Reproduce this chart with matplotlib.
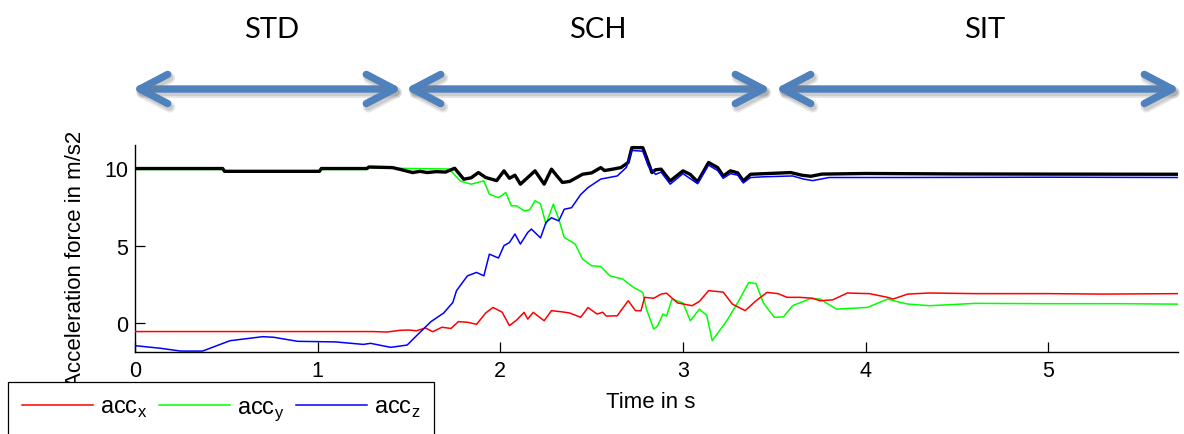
import matplotlib
matplotlib.use("Agg")
import matplotlib.pyplot as plt
from matplotlib.patches import FancyArrowPatch, ArrowStyle
from matplotlib.lines import Line2D
import matplotlib.patheffects as pe
import numpy as np

plt.rcParams['font.family'] = ['Liberation Sans', 'DejaVu Sans']
plt.rcParams['mathtext.fontset'] = 'custom'
plt.rcParams['mathtext.rm'] = 'Liberation Sans'

# ---------------- data ----------------
t_x = [0.00, 1.30, 1.38, 1.45, 1.50, 1.54, 1.59, 1.63, 1.68, 1.73, 1.77, 1.82, 1.87,
       1.92, 1.96, 2.01, 2.05, 2.09, 2.13, 2.15, 2.18, 2.24, 2.28, 2.34, 2.38, 2.44,
       2.48, 2.53, 2.56, 2.58, 2.64, 2.68, 2.70, 2.74, 2.77, 2.79, 2.84, 2.88, 2.91,
       2.97, 3.05, 3.09, 3.14, 3.22, 3.27, 3.34, 3.40, 3.46, 3.52, 3.57, 3.64, 3.71,
       3.75, 3.82, 3.90, 4.02, 4.12, 4.15, 4.23, 4.35, 4.60, 5.00, 5.30, 5.71]
acc_x = [-0.55, -0.55, -0.58, -0.47, -0.45, -0.50, -0.32, -0.56, -0.27, -0.35, 0.09, 0.05, -0.08,
         0.65, 1.01, 0.70, -0.17, 0.20, 0.69, 0.26, 0.69, 0.15, 0.80, 0.72, 0.65, 0.37,
         1.00, 0.58, 0.70, 0.45, 0.47, 1.12, 1.44, 0.80, 0.80, 1.66, 1.60, 1.87, 1.93,
         1.30, 1.12, 1.40, 2.09, 2.00, 1.23, 0.80, 1.44, 1.98, 1.90, 1.66, 1.66, 1.60,
         1.44, 1.50, 1.94, 1.90, 1.66, 1.55, 1.87, 1.94, 1.90, 1.90, 1.87, 1.90]

t_y = [0.00, 0.48, 0.49, 1.01, 1.02, 1.27, 1.28, 1.72, 1.78, 1.84, 1.91, 1.94, 1.99,
       2.03, 2.06, 2.09, 2.13, 2.16, 2.19, 2.22, 2.25, 2.29, 2.32, 2.35, 2.41, 2.45,
       2.50, 2.55, 2.60, 2.67, 2.73, 2.78, 2.80, 2.84, 2.86, 2.89, 2.91, 2.94, 3.00,
       3.04, 3.09, 3.13, 3.16, 3.24, 3.30, 3.36, 3.40, 3.44, 3.50, 3.55, 3.60, 3.70,
       3.75, 3.84, 4.01, 4.12, 4.19, 4.23, 4.35, 4.60, 5.00, 5.40, 5.71]
acc_y = [9.92, 9.92, 9.75, 9.75, 9.92, 9.92, 10.02, 9.95, 9.18, 8.97, 9.18, 8.32, 8.10,
         8.43, 7.57, 7.57, 7.25, 7.30, 7.90, 7.70, 6.39, 7.68, 6.71, 5.53, 5.10, 4.13,
         3.70, 3.65, 3.05, 2.84, 2.30, 1.98, 0.90, -0.39, -0.20, 0.58, 0.45, 1.55, 1.30,
         0.15, 0.90, 0.50, -1.14, 0.15, 1.33, 2.62, 2.55, 1.30, 0.37, 0.40, 1.12, 1.59,
         1.55, 0.90, 1.01, 1.55, 1.33, 1.23, 1.12, 1.27, 1.25, 1.25, 1.22]

t_z = [0.00, 0.14, 0.25, 0.37, 0.52, 0.70, 0.76, 0.89, 1.00, 1.10, 1.25, 1.29, 1.40,
       1.49, 1.56, 1.62, 1.69, 1.74, 1.76, 1.82, 1.87, 1.91, 1.94, 1.99, 2.02, 2.05,
       2.08, 2.11, 2.15, 2.17, 2.22, 2.25, 2.28, 2.32, 2.35, 2.39, 2.44, 2.48, 2.55,
       2.64, 2.69, 2.72, 2.78, 2.81, 2.85, 2.88, 2.93, 3.00, 3.08, 3.14, 3.19, 3.22,
       3.26, 3.30, 3.33, 3.37, 3.45, 3.60, 3.66, 3.71, 3.80, 4.20, 5.00, 5.71]
acc_z = [-1.46, -1.63, -1.81, -1.81, -1.14, -0.88, -0.92, -1.18, -1.20, -1.22, -1.38, -1.31, -1.57,
         -1.42, -0.60, 0.09, 0.65, 1.33, 2.09, 3.05, 3.27, 3.05, 4.45, 4.20, 5.00, 5.20,
         5.75, 5.10, 5.85, 6.07, 5.50, 6.50, 6.80, 6.60, 7.35, 7.45, 8.30, 8.75, 9.30,
         9.50, 10.05, 11.15, 11.10, 10.15, 9.60, 9.75, 8.97, 9.65, 9.00, 10.20, 9.85, 9.35,
         9.65, 9.55, 9.05, 9.40, 9.45, 9.50, 9.30, 9.20, 9.40, 9.40, 9.42, 9.40]

t_mag = [0.00, 0.48, 0.49, 1.01, 1.02, 1.27, 1.28, 1.41, 1.46, 1.52, 1.56, 1.60, 1.65,
         1.70, 1.75, 1.80, 1.84, 1.88, 1.92, 1.98, 2.02, 2.05, 2.08, 2.11, 2.15, 2.19,
         2.24, 2.28, 2.31, 2.34, 2.38, 2.45, 2.50, 2.55, 2.57, 2.62, 2.66, 2.70, 2.72,
         2.78, 2.80, 2.83, 2.85, 2.88, 2.93, 3.00, 3.04, 3.08, 3.14, 3.19, 3.22, 3.26,
         3.30, 3.33, 3.37, 3.45, 3.59, 3.65, 3.70, 3.76, 4.00, 4.50, 5.00, 5.71]
acc_mag = [9.98, 9.98, 9.80, 9.80, 9.98, 9.98, 10.08, 10.04, 9.90, 9.72, 9.80, 9.72, 9.78,
           9.75, 10.00, 9.29, 9.38, 9.72, 9.40, 9.20, 9.83, 9.35, 9.55, 8.97, 9.40, 9.83,
           8.97, 9.94, 9.50, 9.08, 9.15, 9.61, 9.70, 10.04, 9.85, 9.95, 10.04, 10.37, 11.33,
           11.33, 10.70, 9.72, 9.90, 9.94, 9.18, 9.83, 9.60, 9.12, 10.37, 10.04, 9.50, 9.83,
           9.70, 9.18, 9.61, 9.65, 9.72, 9.55, 9.48, 9.62, 9.66, 9.63, 9.62, 9.61]

series_labels = [r'acc$_\mathregular{x}$', r'acc$_\mathregular{y}$', r'acc$_\mathregular{z}$']
series_colors = ['#FF0000', '#00FF00', '#0000FF']
x_ticks = [0, 1, 2, 3, 4, 5]
y_ticks = [0, 5, 10]
phase_names = ['STD', 'SCH', 'SIT']

# ---------------- figure ----------------
W, H = 1184, 435
fig = plt.figure(figsize=(W / 100, H / 100), dpi=100)
ax = fig.add_axes([135 / W, 1 - 353 / H, 1043 / W, 207 / H])

ax.plot(t_y, acc_y, color=series_colors[1], lw=1.1, zorder=2)
ax.plot(t_mag, acc_mag, color='black', lw=2.4, zorder=3)
ax.plot(t_x, acc_x, color=series_colors[0], lw=1.1, zorder=4)
ax.plot(t_z, acc_z, color=series_colors[2], lw=1.1, zorder=4)

ax.set_xlim(0, 5.71)
ax.set_ylim(-1.87, 11.5)
ax.set_xticks(x_ticks)
ax.set_yticks(y_ticks)
for s in ['top', 'right']:
    ax.spines[s].set_visible(False)
for s in ['left', 'bottom']:
    ax.spines[s].set_linewidth(1.0)
ax.tick_params(direction='in', length=7, width=0.9, labelsize=15.5, colors='black')
ax.tick_params(axis='x', pad=6)
ax.tick_params(axis='y', pad=5)

ax.set_xlabel('Time in s', fontsize=16)
ax.xaxis.set_label_coords(0.494, -0.19)
ax.set_ylabel('Acceleration force in m/s2', fontsize=16)
ax.yaxis.set_label_coords(-0.047, 0.455)

handles = [Line2D([], [], color=c, lw=1.1) for c in series_colors]
leg = fig.legend(handles, series_labels, loc='upper left',
                 bbox_to_anchor=(8 / W, 1 - 383 / H), ncol=3, frameon=True,
                 fancybox=False, edgecolor='black', framealpha=1, borderpad=0.6,
                 handlelength=3.0, handletextpad=0.3, columnspacing=0.5,
                 fontsize=17, borderaxespad=0)
leg.get_frame().set_linewidth(0.9)

# ---------------- phase arrows ----------------
def fx(px):
    return px / W

def fy(py):
    return 1 - py / H

arrow_spans = [(132, 402), (405, 771), (775, 1180)]
label_x = [272, 598, 985]
arrow_y = 90
for (a, b), name, lx in zip(arrow_spans, phase_names, label_x):
    arr = FancyArrowPatch((fx(a), fy(arrow_y)), (fx(b), fy(arrow_y)),
                          transform=fig.transFigure,
                          arrowstyle=ArrowStyle('<->', head_length=20, head_width=10.5),
                          mutation_scale=1, lw=5.3, color='#4F81BD',
                          shrinkA=0, shrinkB=0, capstyle='round', joinstyle='round')
    arr.set_path_effects([
        pe.SimpleLineShadow(offset=(1.5, -2.5), shadow_color='#7f7f7f', alpha=0.18, linewidth=8),
        pe.SimpleLineShadow(offset=(1.5, -2.5), shadow_color='#7f7f7f', alpha=0.25),
        pe.Normal()])
    fig.add_artist(arr)
    fig.text(fx(lx), fy(30), name, ha='center', va='center', fontsize=21,
             family=['Lato', 'DejaVu Sans'], color='black')

fig.savefig('out.png', dpi=100)
